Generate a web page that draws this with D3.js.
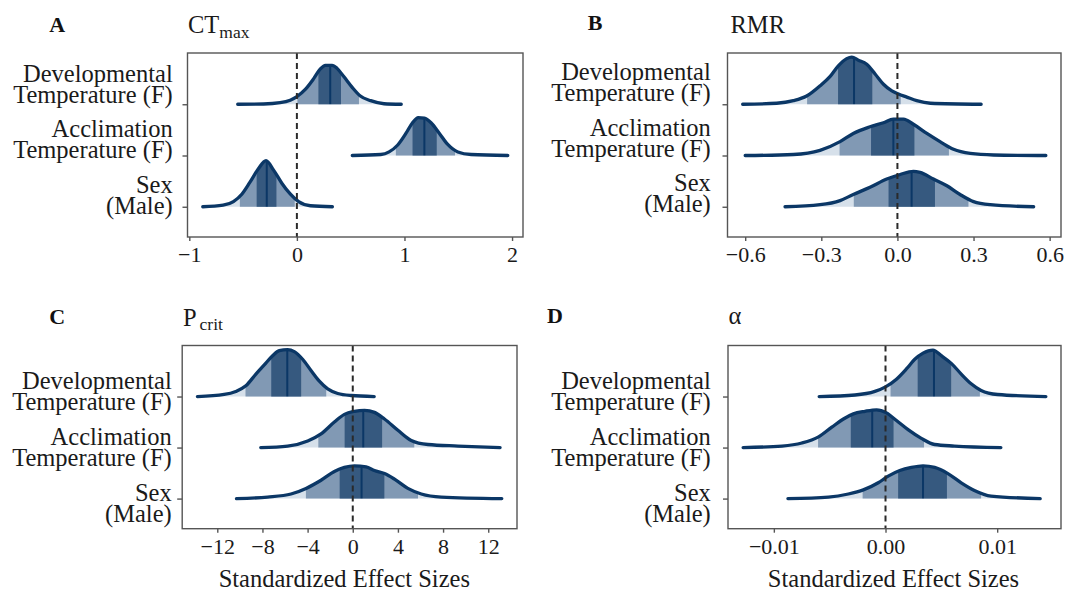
<!DOCTYPE html>
<html>
<head>
<meta charset="utf-8">
<script src="https://cdn.jsdelivr.net/npm/d3@7"></script>
<style>
  body { margin: 0; background: #fff; }
  svg { display: block; }
  text { font-family: "Liberation Serif", "Times New Roman", serif; }
</style>
</head>
<body>
<svg id="fig" width="1068" height="593"></svg>
<script>
// ---- Posterior summaries: categories and per-trait densities ----
const categoryLines = [
  ["Developmental", "Temperature (F)"],
  ["Acclimation", "Temperature (F)"],
  ["Sex", "(Male)"]
];

// Density curves: [effect size, relative height], one list per category
const ctmaxDensity = [
  [[-0.55,0],[-0.31,0.005],[-0.156,0.03],[-0.062,0.08],[0,0.15],[0.078,0.29],[0.156,0.50],[0.218,0.69],[0.265,0.76],[0.327,0.76],[0.374,0.70],[0.436,0.54],[0.514,0.33],[0.59,0.16],[0.686,0.07],[0.81,0.01],[0.97,0]],
  [[0.515,0],[0.78,0.02],[0.857,0.07],[0.935,0.20],[1.013,0.43],[1.075,0.64],[1.128,0.74],[1.185,0.73],[1.247,0.64],[1.325,0.43],[1.40,0.22],[1.496,0.07],[1.62,0.02],[1.96,0]],
  [[-0.875,0],[-0.686,0.03],[-0.59,0.10],[-0.51,0.25],[-0.436,0.48],[-0.358,0.74],[-0.287,0.90],[-0.218,0.72],[-0.14,0.46],[-0.062,0.25],[0.016,0.10],[0.125,0.02],[0.33,0]]
];
const ctmaxMedian = [0.31, 1.185, -0.28];
const ctmaxInner = [[0.20, 0.41], [1.075, 1.30], [-0.374, -0.19]];
const ctmaxOuter = [[0.005, 0.577], [0.92, 1.47], [-0.53, -0.02]];
const ctmaxTicks = [-1, 0, 1, 2];
const ctmaxTickLabels = ["\u22121", "0", "1", "2"];

const rmrDensity = [
  [[-0.61,0],[-0.476,0.02],[-0.41,0.07],[-0.358,0.16],[-0.305,0.36],[-0.266,0.54],[-0.233,0.75],[-0.20,0.89],[-0.18,0.92],[-0.154,0.86],[-0.121,0.78],[-0.088,0.59],[-0.055,0.39],[-0.022,0.26],[0.004,0.20],[0.037,0.14],[0.076,0.07],[0.13,0.02],[0.33,0]],
  [[-0.60,0],[-0.41,0.02],[-0.305,0.10],[-0.226,0.27],[-0.174,0.43],[-0.108,0.56],[-0.055,0.64],[-0.016,0.71],[0.024,0.71],[0.063,0.61],[0.116,0.43],[0.168,0.27],[0.221,0.12],[0.287,0.04],[0.379,0.01],[0.585,0]],
  [[-0.443,0],[-0.305,0.04],[-0.226,0.12],[-0.174,0.24],[-0.108,0.38],[-0.042,0.54],[0.011,0.63],[0.063,0.69],[0.089,0.67],[0.142,0.54],[0.195,0.41],[0.247,0.24],[0.30,0.10],[0.366,0.04],[0.537,0]]
];
const rmrMedian = [-0.171, -0.016, 0.056];
const rmrInner = [[-0.234, -0.099], [-0.104, 0.067], [-0.035, 0.148]];
const rmrOuter = [[-0.356, 0.013], [-0.228, 0.203], [-0.172, 0.28]];
const rmrTicks = [-0.6, -0.3, 0, 0.3, 0.6];
const rmrTickLabels = ["\u22120.6", "\u22120.3", "0.0", "0.3", "0.6"];

const pcritDensity = [
  [[-13.76,0],[-11.39,0.04],[-10.36,0.10],[-9.47,0.21],[-8.58,0.44],[-7.84,0.62],[-7.10,0.80],[-6.51,0.90],[-5.77,0.92],[-5.18,0.88],[-4.44,0.73],[-3.70,0.51],[-2.96,0.30],[-2.22,0.15],[-1.33,0.06],[-0.15,0.02],[1.9,0]],
  [[-8.15,0],[-5.77,0.03],[-3.99,0.13],[-2.81,0.27],[-1.63,0.50],[-0.74,0.65],[0.15,0.71],[1.04,0.73],[1.92,0.69],[2.81,0.56],[4.0,0.34],[5.18,0.14],[6.66,0.06],[9.32,0.03],[13.05,0]],
  [[-10.3,0],[-7.54,0.03],[-5.47,0.09],[-4.14,0.20],[-2.81,0.36],[-1.63,0.53],[-0.74,0.61],[0.15,0.64],[1.18,0.62],[1.92,0.55],[2.81,0.49],[3.70,0.38],[4.88,0.20],[6.07,0.09],[7.84,0.03],[13.2,0]]
];
const pcritMedian = [-5.8, 0.93, 0.78];
const pcritInner = [[-7.22, -4.57], [-0.72, 2.6], [-1.16, 2.8]];
const pcritOuter = [[-9.5, -2.35], [-3.05, 5.45], [-4.15, 5.78]];
const pcritTicks = [-12, -8, -4, 0, 4, 8, 12];
const pcritTickLabels = ["\u221212", "\u22128", "\u22124", "0", "4", "8", "12"];

const alphaDensity = [
  [[-0.00594,0],[-0.00273,0.03],[-0.00095,0.10],[0,0.19],[0.00098,0.34],[0.00187,0.54],[0.00262,0.73],[0.00336,0.85],[0.00425,0.91],[0.005,0.80],[0.00589,0.65],[0.00678,0.44],[0.00767,0.25],[0.00856,0.12],[0.01004,0.04],[0.01436,0]],
  [[-0.01275,0],[-0.00927,0.03],[-0.00749,0.09],[-0.006,0.21],[-0.00481,0.40],[-0.00377,0.56],[-0.00288,0.66],[-0.00184,0.71],[-0.0008,0.74],[0.00009,0.68],[0.00098,0.53],[0.00202,0.35],[0.00321,0.18],[0.0044,0.06],[0.00618,0.03],[0.01033,0]],
  [[-0.00874,0],[-0.00511,0.03],[-0.00333,0.09],[-0.00199,0.17],[-0.00065,0.31],[0.00024,0.44],[0.00128,0.55],[0.00232,0.61],[0.00336,0.64],[0.0044,0.61],[0.00559,0.49],[0.00678,0.31],[0.00796,0.16],[0.00945,0.05],[0.01385,0]]
];
const alphaMedian = [0.00434, -0.00119, 0.00336];
const alphaInner = [[0.00288, 0.00588], [-0.00311, 0.00072], [0.00113, 0.0055]];
const alphaOuter = [[0.00045, 0.00845], [-0.00604, 0.00345], [-0.00205, 0.00856]];
const alphaTicks = [-0.01, 0, 0.01];
const alphaTickLabels = ["\u22120.01", "0.00", "0.01"];

// ---- Styling ----
const colLine = "#0b3766";
const colInner = "#36597f";
const colOuter = "#8199b4";
const colLight = "#d6e0ea";
const colFrame = "#555555";
const colText = "#1a1a1a";

// ---- Panel layout ----
const panels = [
  { letter: "A", title: "CT", sub: "max", density: ctmaxDensity, median: ctmaxMedian, inner: ctmaxInner, outer: ctmaxOuter,
    ticks: ctmaxTicks, tickLabels: ctmaxTickLabels,
    box: { x0: 187.5, x1: 523, y0: 53, y1: 237 }, letterPos: [49.3, 32], titlePos: [188, 33.3], subDy: 4.4, subDx: 0,
    labelX: 172.7, labelY0: 81.7, xTitle: null },
  { letter: "B", title: "RMR", sub: null, density: rmrDensity, median: rmrMedian, inner: rmrInner, outer: rmrOuter,
    ticks: rmrTicks, tickLabels: rmrTickLabels,
    box: { x0: 727.5, x1: 1061, y0: 53, y1: 237 }, letterPos: [587.7, 29.5], titlePos: [730.5, 33.3], subDy: 0, subDx: 0,
    labelX: 710.8, labelY0: 80, xTitle: null },
  { letter: "C", title: "P", sub: "crit", density: pcritDensity, median: pcritMedian, inner: pcritInner, outer: pcritOuter,
    ticks: pcritTicks, tickLabels: pcritTickLabels,
    box: { x0: 182.2, x1: 517, y0: 345.5, y1: 528.7 }, letterPos: [49.3, 324], titlePos: [182.9, 326], subDy: 3.5, subDx: 3,
    labelX: 171.7, labelY0: 389.3, xTitle: 344.3 },
  { letter: "D", title: "\u03b1", sub: null, density: alphaDensity, median: alphaMedian, inner: alphaInner, outer: alphaOuter,
    ticks: alphaTicks, tickLabels: alphaTickLabels,
    box: { x0: 728, x1: 1061, y0: 345.5, y1: 528.7 }, letterPos: [546.9, 323], titlePos: [728.5, 324.3], subDy: 0, subDx: 0,
    labelX: 710.8, labelY0: 389.3, xTitle: 893.5 }
];

const svg = d3.select("#fig");
const defs = svg.append("defs");

panels.forEach((p, pi) => {
  const g = svg.append("g").attr("class", "panel-" + p.letter);
  const b = p.box;

  // x domain: full range of draws plus 5% on each side
  const [lo, hi] = d3.extent(p.density.flat(), d => d[0]);
  const pad = (hi - lo) * 0.05;
  const x = d3.scaleLinear().domain([lo - pad, hi + pad]).range([b.x0, b.x1]);
  // categories stacked from the top: first category at 3, last at 1
  const y = d3.scaleLinear().domain([0.41, 4.0]).range([b.y1, b.y0]);
  const rowOf = i => categoryLines.length - i;

  p.density.forEach((pts, i) => {
    const base = rowOf(i);
    const area = d3.area()
      .x(d => x(d[0])).y0(y(base)).y1(d => y(base + d[1]))
      .curve(d3.curveMonotoneX);
    const line = d3.line()
      .x(d => x(d[0])).y(d => y(base + d[1]))
      .curve(d3.curveMonotoneX);

    const areaClip = `area-${pi}-${i}`;
    defs.append("clipPath").attr("id", areaClip).append("path").attr("d", area(pts));

    const band = (range, id) => {
      defs.append("clipPath").attr("id", id).append("rect")
        .attr("x", x(range[0])).attr("width", x(range[1]) - x(range[0]))
        .attr("y", y(base + 1.2)).attr("height", y(base) - y(base + 1.2) + 2);
    };
    band(p.outer[i], `outer-${pi}-${i}`);
    band(p.inner[i], `inner-${pi}-${i}`);

    g.append("path").attr("d", area(pts)).attr("fill", colLight);
    g.append("path").attr("d", area(pts)).attr("fill", colOuter)
      .attr("clip-path", `url(#outer-${pi}-${i})`);
    g.append("path").attr("d", area(pts)).attr("fill", colInner)
      .attr("clip-path", `url(#inner-${pi}-${i})`);

    // median
    g.append("line")
      .attr("x1", x(p.median[i])).attr("x2", x(p.median[i]))
      .attr("y1", y(base)).attr("y2", y(base + 1.2))
      .attr("stroke", colLine).attr("stroke-width", 2)
      .attr("clip-path", `url(#${areaClip})`);

    g.append("path").attr("d", line(pts))
      .attr("fill", "none").attr("stroke", colLine)
      .attr("stroke-width", 3.3).attr("stroke-linejoin", "round").attr("stroke-linecap", "round");
  });

  // zero reference
  g.append("line")
    .attr("x1", x(0)).attr("x2", x(0)).attr("y1", b.y0).attr("y2", b.y1)
    .attr("stroke", "#2a2a2a").attr("stroke-width", 2).attr("stroke-dasharray", "6,4");

  // frame
  g.append("rect")
    .attr("x", b.x0).attr("y", b.y0).attr("width", b.x1 - b.x0).attr("height", b.y1 - b.y0)
    .attr("fill", "none").attr("stroke", colFrame).attr("stroke-width", 1.4);

  // bottom axis
  const ax = g.append("g").attr("transform", `translate(0,${b.y1})`)
    .call(d3.axisBottom(x).tickValues(p.ticks)
      .tickFormat((d, k) => p.tickLabels[k]).tickSize(4).tickPadding(5.5));
  ax.select(".domain").remove();
  ax.selectAll(".tick line").attr("stroke", colFrame).attr("stroke-width", 1.4);
  ax.selectAll(".tick text").attr("fill", colText)
    .style("font-size", "22px").style("font-family", '"Liberation Serif", serif');

  // left axis ticks
  const ay = g.append("g").attr("transform", `translate(${b.x0},0)`)
    .call(d3.axisLeft(y).tickValues(categoryLines.map((c, i) => rowOf(i))).tickFormat("").tickSize(5));
  ay.select(".domain").remove();
  ay.selectAll(".tick line").attr("stroke", colFrame).attr("stroke-width", 1.4);

  // category labels
  categoryLines.forEach((lines, i) => {
    const t = g.append("text").attr("text-anchor", "end").attr("fill", colText)
      .style("font-size", "24.5px");
    lines.forEach((s, k) => {
      t.append("tspan").attr("x", p.labelX).attr("y", p.labelY0 + i * 55.7 + k * 21).text(s);
    });
  });

  // panel letter
  g.append("text").attr("x", p.letterPos[0]).attr("y", p.letterPos[1])
    .attr("fill", "#111").style("font-size", "22px").style("font-weight", "bold").text(p.letter);

  // trait title
  const tt = g.append("text").attr("x", p.titlePos[0]).attr("y", p.titlePos[1])
    .attr("fill", colText).style("font-size", "24.5px");
  tt.append("tspan").text(p.title);
  if (p.sub) {
    tt.append("tspan").attr("dy", p.subDy).attr("dx", p.subDx)
      .style("font-size", "17.5px").text(p.sub);
  }

  if (p.xTitle !== null) {
    g.append("text").attr("x", p.xTitle).attr("y", 586.7)
      .attr("text-anchor", "middle").attr("fill", colText).style("font-size", "24.5px")
      .text("Standardized Effect Sizes");
  }
});
</script>
</body>
</html>
